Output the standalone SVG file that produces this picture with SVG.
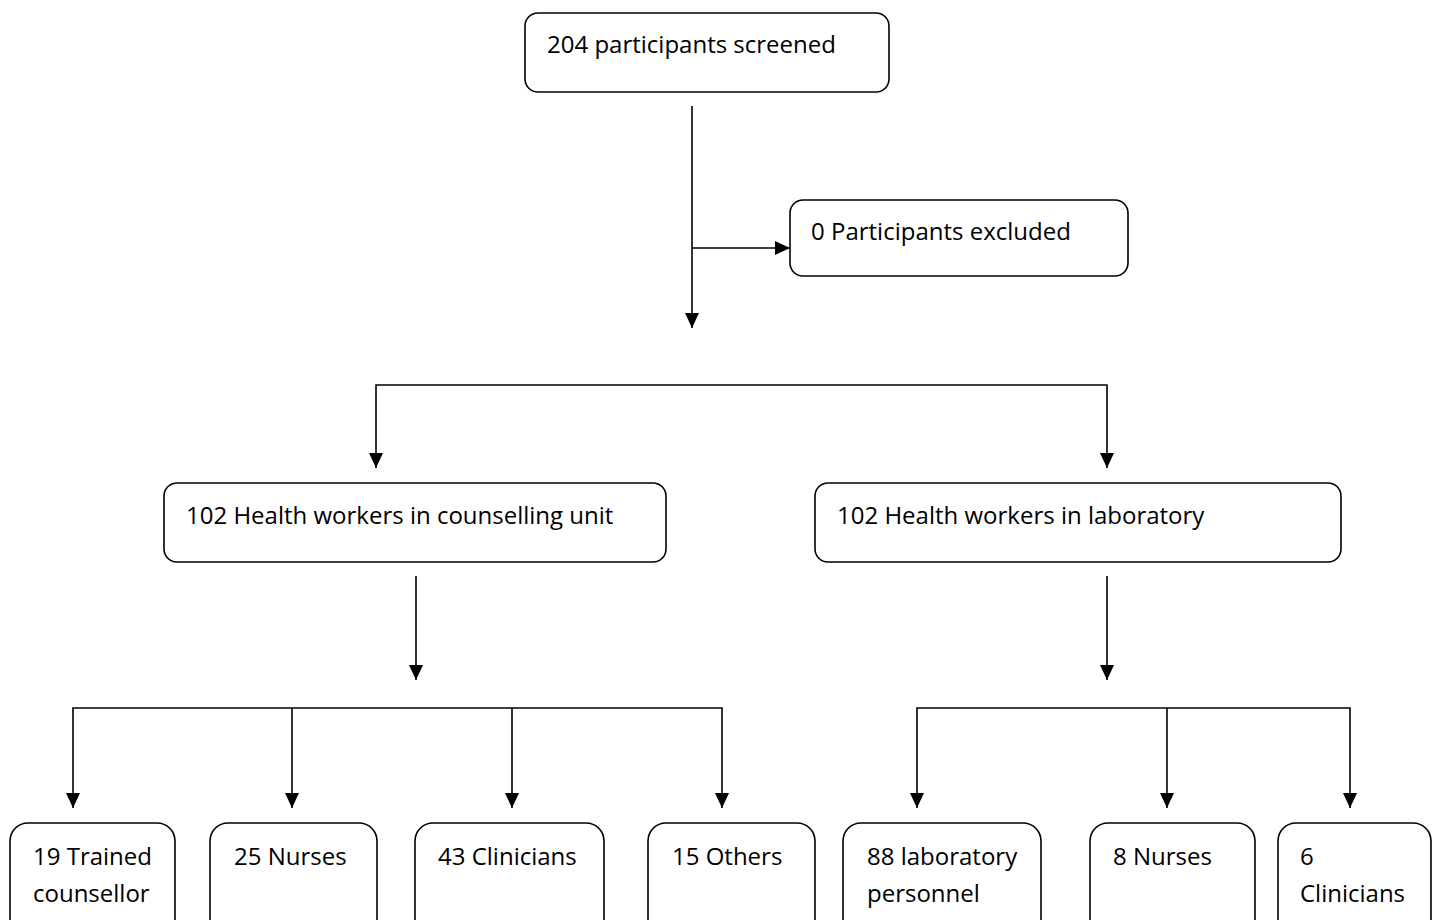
<svg xmlns="http://www.w3.org/2000/svg" width="1435" height="920" viewBox="0 0 1435 920">
<style>
.box{fill:#fff;stroke:#000;stroke-width:1.6}
.t{font-family:"Open Sans","Liberation Sans",sans-serif;font-size:24px;fill:#000}
.c{fill:none;stroke:#000;stroke-width:1.6}
</style>
<defs>
<marker id="ah" viewBox="0 0 16 16" refX="15" refY="8" markerWidth="16" markerHeight="16" markerUnits="userSpaceOnUse" orient="auto-start-reverse">
<path d="M0,1 L15,8 L0,15 Z" fill="#000"/>
</marker>
</defs>
<rect width="1435" height="920" fill="#fff"/>
<g id="connectors">
<path class="c" d="M692,106 V328" marker-end="url(#ah)"/>
<path class="c" d="M692,248 H790" marker-end="url(#ah)"/>
<path class="c" d="M376,468 V385 H1107 V468" marker-start="url(#ah)" marker-end="url(#ah)"/>
<path class="c" d="M416,576 V680" marker-end="url(#ah)"/>
<path class="c" d="M1107,576 V680" marker-end="url(#ah)"/>
<path class="c" d="M73,808 V708 H722 V808" marker-start="url(#ah)" marker-end="url(#ah)"/>
<path class="c" d="M292,708 V808" marker-end="url(#ah)"/>
<path class="c" d="M512,708 V808" marker-end="url(#ah)"/>
<path class="c" d="M917,808 V708 H1350 V808" marker-start="url(#ah)" marker-end="url(#ah)"/>
<path class="c" d="M1167,708 V808" marker-end="url(#ah)"/>
</g>
<g id="screened"><rect class="box" x="525" y="13" width="364" height="79" rx="13"/><text class="t" x="547" y="53">204 participants screened</text></g>
<g id="excluded"><rect class="box" x="790" y="200" width="338" height="76" rx="13"/><text class="t" x="811" y="240">0 Participants excluded</text></g>
<g id="counselling"><rect class="box" x="164" y="483" width="502" height="79" rx="13"/><text class="t" x="186" y="524">102 Health workers in counselling unit</text></g>
<g id="laboratory"><rect class="box" x="815" y="483" width="526" height="79" rx="13"/><text class="t" x="837" y="524">102 Health workers in laboratory</text></g>
<g id="trained"><rect class="box" x="10" y="823" width="165" height="130" rx="18"/><text class="t" x="33" y="865">19 Trained</text><text class="t" x="33" y="902">counsellor</text></g>
<g id="nurses25"><rect class="box" x="210" y="823" width="167" height="130" rx="18"/><text class="t" x="234" y="865">25 Nurses</text></g>
<g id="clinicians43"><rect class="box" x="415" y="823" width="189" height="130" rx="18"/><text class="t" x="438" y="865">43 Clinicians</text></g>
<g id="others"><rect class="box" x="648" y="823" width="167" height="130" rx="18"/><text class="t" x="672" y="865">15 Others</text></g>
<g id="labpersonnel"><rect class="box" x="843" y="823" width="198" height="130" rx="18"/><text class="t" x="867" y="865">88 laboratory</text><text class="t" x="867" y="902">personnel</text></g>
<g id="nurses8"><rect class="box" x="1090" y="823" width="165" height="130" rx="18"/><text class="t" x="1113" y="865">8 Nurses</text></g>
<g id="clinicians6"><rect class="box" x="1278" y="823" width="153" height="130" rx="18"/><text class="t" x="1300" y="865">6</text><text class="t" x="1300" y="902">Clinicians</text></g>
</svg>
